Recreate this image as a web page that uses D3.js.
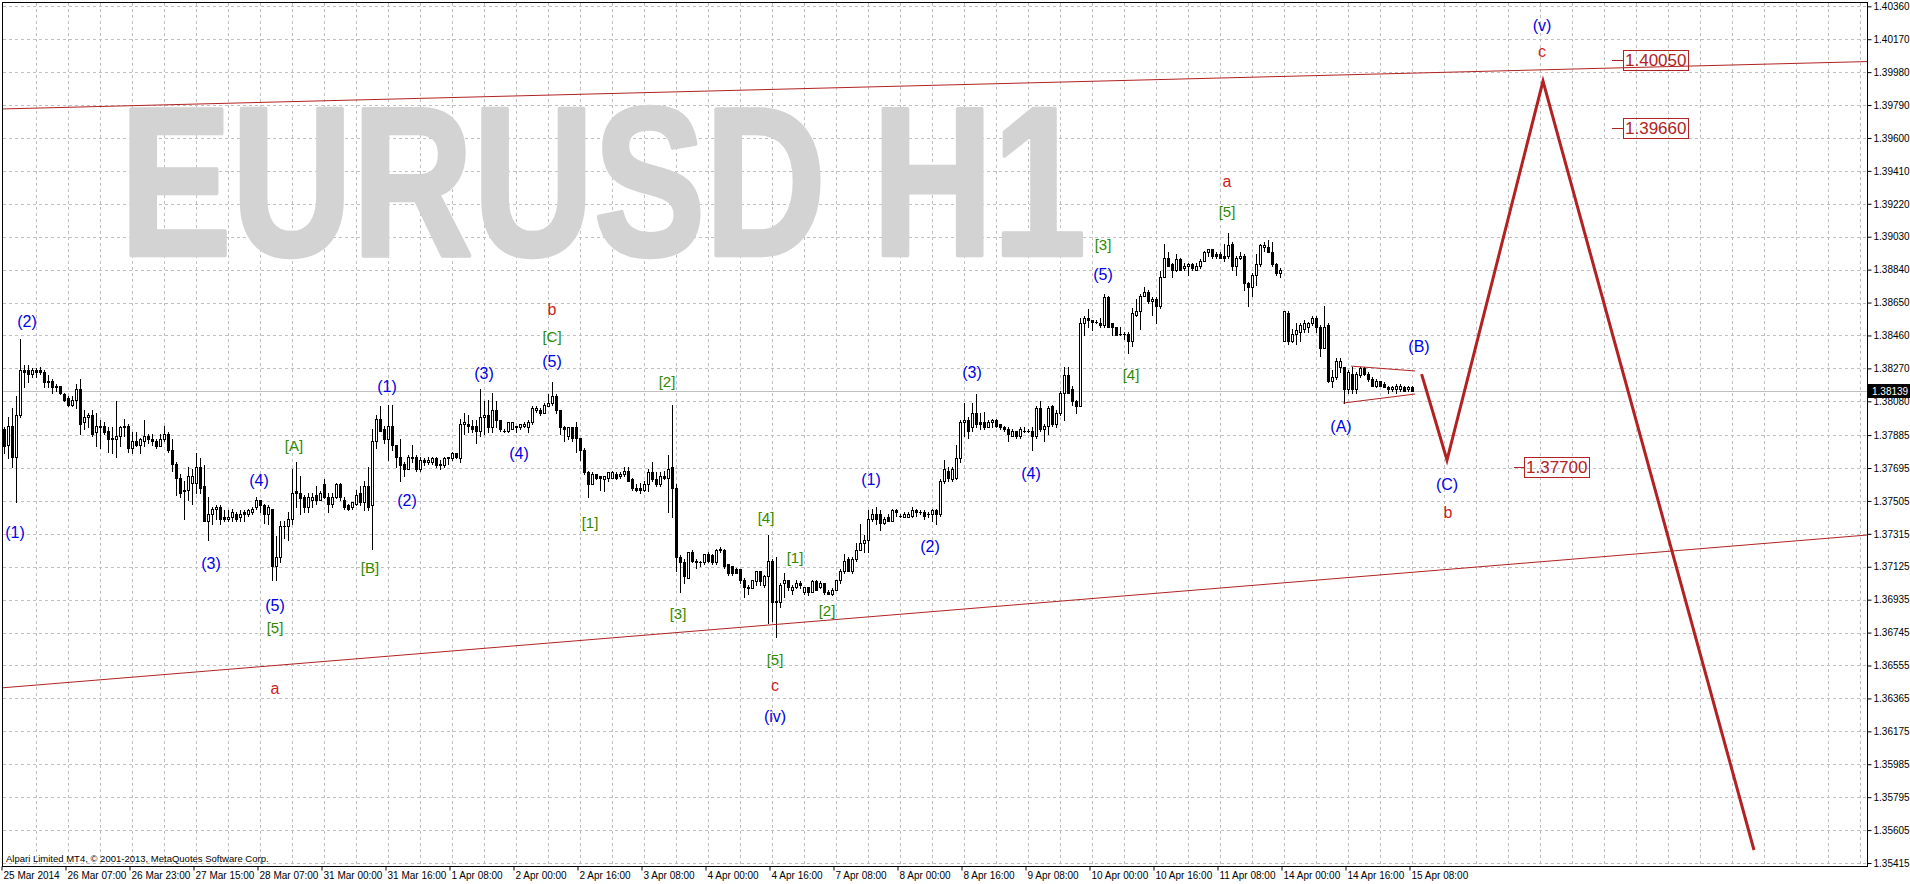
<!DOCTYPE html>
<html><head><meta charset="utf-8">
<script src="https://cdn.jsdelivr.net/npm/d3@7"></script>
<style>body{margin:0;background:#fff;overflow:hidden}svg{display:block}</style>
</head><body><svg id="c" width="1910" height="884"></svg>
<script>
// ---------- data ----------
const priceTicks = [1.40360,1.40170,1.39980,1.39790,1.39600,1.39410,1.39220,1.39030,1.38840,1.38650,1.38460,1.38270,1.38080,1.37885,1.37695,1.37505,1.37315,1.37125,1.36935,1.36745,1.36555,1.36365,1.36175,1.35985,1.35795,1.35605,1.35415];
const timeLabels = ["25 Mar 2014","26 Mar 07:00","26 Mar 23:00","27 Mar 15:00","28 Mar 07:00","31 Mar 00:00","31 Mar 16:00","1 Apr 08:00","2 Apr 00:00","2 Apr 16:00","3 Apr 08:00","4 Apr 00:00","4 Apr 16:00","7 Apr 08:00","8 Apr 00:00","8 Apr 16:00","9 Apr 08:00","10 Apr 00:00","10 Apr 16:00","11 Apr 08:00","14 Apr 00:00","14 Apr 16:00","15 Apr 08:00"];
const timeLabelBars = [0,16,32,48,64,80,96,112,128,144,160,176,192,208,224,240,256,272,288,304,320,336,352];
const lastPrice = 1.38139;
// [open, high, low, close] per H1 bar
const bars = [
[1.3792,1.3793,1.3778,1.3782],[1.3783,1.3799,1.3775,1.3794],[1.3794,1.3804,1.3770,1.3776],[1.3776,1.3811,1.3750,1.3800],
[1.3800,1.3844,1.3799,1.3826],[1.3826,1.3829,1.3816,1.3825],[1.3826,1.3829,1.3819,1.3824],[1.3824,1.3827,1.3822,1.3826],
[1.3826,1.3827,1.3822,1.3825],[1.3826,1.3828,1.3824,1.3825],[1.3825,1.3826,1.3816,1.3819],[1.3820,1.3823,1.3816,1.3819],
[1.3820,1.3821,1.3813,1.3816],[1.3817,1.3818,1.3814,1.3816],[1.3817,1.3817,1.3812,1.3813],[1.3812,1.3813,1.3808,1.3809],
[1.3810,1.3811,1.3805,1.3806],[1.3806,1.3811,1.3805,1.3809],[1.3809,1.3818,1.3804,1.3815],[1.3815,1.3821,1.3789,1.3795],
[1.3796,1.3803,1.3792,1.3799],[1.3799,1.3801,1.3793,1.3800],[1.3800,1.3803,1.3788,1.3789],[1.3790,1.3801,1.3782,1.3794],
[1.3794,1.3797,1.3781,1.3793],[1.3794,1.3796,1.3789,1.3790],[1.3791,1.3793,1.3779,1.3786],[1.3786,1.3793,1.3778,1.3787],
[1.3786,1.3808,1.3776,1.3788],[1.3788,1.3794,1.3782,1.3793],[1.3794,1.3798,1.3788,1.3793],[1.3794,1.3795,1.3779,1.3781],
[1.3781,1.3790,1.3778,1.3785],[1.3785,1.3790,1.3782,1.3783],[1.3783,1.3787,1.3778,1.3786],[1.3785,1.3797,1.3782,1.3788],
[1.3788,1.3789,1.3784,1.3786],[1.3786,1.3789,1.3783,1.3785],[1.3785,1.3786,1.3781,1.3782],[1.3782,1.3789,1.3782,1.3786],
[1.3786,1.3794,1.3785,1.3789],[1.3789,1.3790,1.3779,1.3780],[1.3780,1.3786,1.3768,1.3772],[1.3772,1.3773,1.3754,1.3764],
[1.3764,1.3766,1.3753,1.3755],[1.3756,1.3762,1.3740,1.3757],[1.3757,1.3770,1.3751,1.3765],[1.3761,1.3769,1.3749,1.3765],
[1.3761,1.3778,1.3755,1.3770],[1.3770,1.3775,1.3755,1.3758],[1.3759,1.3771,1.3739,1.3739],[1.3739,1.3753,1.3728,1.3743],
[1.3743,1.3747,1.3737,1.3746],[1.3746,1.3748,1.3740,1.3747],[1.3747,1.3748,1.3737,1.3740],[1.3741,1.3745,1.3739,1.3740],
[1.3740,1.3745,1.3739,1.3741],[1.3741,1.3746,1.3739,1.3744],[1.3743,1.3744,1.3739,1.3740],[1.3741,1.3745,1.3739,1.3743],
[1.3744,1.3745,1.3739,1.3743],[1.3743,1.3746,1.3742,1.3745],[1.3744,1.3747,1.3743,1.3746],[1.3747,1.3753,1.3746,1.3751],
[1.3751,1.3751,1.3744,1.3748],[1.3748,1.3749,1.3738,1.3743],[1.3743,1.3748,1.3737,1.3747],[1.3746,1.3746,1.3705,1.3713],
[1.3713,1.3730,1.3705,1.3718],[1.3718,1.3739,1.3715,1.3736],[1.3736,1.3739,1.3729,1.3736],[1.3736,1.3744,1.3728,1.3740],
[1.3740,1.3769,1.3737,1.3755],[1.3756,1.3773,1.3747,1.3755],[1.3755,1.3765,1.3743,1.3752],[1.3753,1.3754,1.3744,1.3747],
[1.3747,1.3755,1.3744,1.3753],[1.3751,1.3755,1.3747,1.3753],[1.3754,1.3759,1.3749,1.3751],[1.3751,1.3756,1.3751,1.3755],
[1.3760,1.3763,1.3752,1.3753],[1.3753,1.3755,1.3744,1.3749],[1.3749,1.3755,1.3747,1.3753],[1.3753,1.3761,1.3752,1.3760],
[1.3760,1.3761,1.3751,1.3753],[1.3751,1.3753,1.3746,1.3747],[1.3748,1.3749,1.3745,1.3746],[1.3747,1.3750,1.3746,1.3750],
[1.3749,1.3757,1.3748,1.3754],[1.3755,1.3759,1.3748,1.3750],[1.3750,1.3762,1.3745,1.3759],[1.3759,1.3770,1.3745,1.3747],
[1.3748,1.3792,1.3723,1.3785],[1.3785,1.3800,1.3781,1.3798],[1.3798,1.3805,1.3791,1.3791],[1.3792,1.3794,1.3784,1.3786],
[1.3786,1.3806,1.3774,1.3794],[1.3794,1.3806,1.3780,1.3783],[1.3783,1.3783,1.3770,1.3776],[1.3776,1.3786,1.3762,1.3771],
[1.3772,1.3773,1.3765,1.3769],[1.3769,1.3777,1.3769,1.3776],[1.3776,1.3783,1.3773,1.3775],[1.3776,1.3777,1.3768,1.3769],
[1.3769,1.3776,1.3768,1.3774],[1.3774,1.3775,1.3771,1.3773],[1.3773,1.3776,1.3772,1.3774],[1.3773,1.3776,1.3772,1.3775],
[1.3775,1.3776,1.3770,1.3771],[1.3772,1.3774,1.3769,1.3771],[1.3771,1.3776,1.3770,1.3775],[1.3776,1.3776,1.3772,1.3775],
[1.3775,1.3779,1.3774,1.3778],[1.3778,1.3778,1.3775,1.3776],[1.3775,1.3798,1.3773,1.3795],[1.3795,1.3801,1.3789,1.3796],
[1.3795,1.3800,1.3790,1.3794],[1.3794,1.3797,1.3790,1.3792],[1.3794,1.3797,1.3784,1.3791],[1.3791,1.3815,1.3788,1.3799],
[1.3799,1.3808,1.3789,1.3800],[1.3800,1.3809,1.3790,1.3793],[1.3793,1.3813,1.3790,1.3803],[1.3803,1.3808,1.3793,1.3797],
[1.3797,1.3797,1.3791,1.3792],[1.3791,1.3792,1.3790,1.3791],[1.3791,1.3796,1.3790,1.3796],[1.3792,1.3796,1.3792,1.3796],
[1.3794,1.3794,1.3790,1.3793],[1.3793,1.3795,1.3792,1.3795],[1.3794,1.3796,1.3793,1.3795],[1.3793,1.3797,1.3790,1.3796],
[1.3796,1.3805,1.3795,1.3804],[1.3803,1.3805,1.3802,1.3804],[1.3803,1.3804,1.3800,1.3801],[1.3801,1.3807,1.3801,1.3806],
[1.3805,1.3812,1.3805,1.3807],[1.3807,1.3819,1.3806,1.3811],[1.3811,1.3812,1.3801,1.3803],[1.3803,1.3803,1.3789,1.3793],
[1.3793,1.3794,1.3785,1.3792],[1.3788,1.3793,1.3786,1.3793],[1.3793,1.3793,1.3785,1.3787],[1.3793,1.3796,1.3779,1.3787],
[1.3787,1.3787,1.3774,1.3780],[1.3780,1.3781,1.3766,1.3767],[1.3767,1.3768,1.3753,1.3760],[1.3760,1.3767,1.3760,1.3766],
[1.3766,1.3766,1.3763,1.3764],[1.3765,1.3765,1.3757,1.3764],[1.3763,1.3765,1.3756,1.3765],[1.3764,1.3767,1.3762,1.3767],
[1.3764,1.3768,1.3764,1.3767],[1.3766,1.3767,1.3763,1.3764],[1.3765,1.3767,1.3764,1.3766],[1.3766,1.3770,1.3765,1.3768],
[1.3768,1.3770,1.3762,1.3762],[1.3763,1.3764,1.3757,1.3758],[1.3758,1.3760,1.3756,1.3757],[1.3758,1.3761,1.3755,1.3757],
[1.3757,1.3762,1.3756,1.3760],[1.3760,1.3769,1.3756,1.3767],[1.3767,1.3773,1.3762,1.3763],[1.3763,1.3767,1.3759,1.3760],
[1.3760,1.3767,1.3759,1.3765],[1.3765,1.3768,1.3763,1.3764],[1.3764,1.3777,1.3744,1.3769],[1.3770,1.3806,1.3741,1.3758],
[1.3758,1.3760,1.3710,1.3718],[1.3718,1.3719,1.3698,1.3715],[1.3715,1.3717,1.3703,1.3707],[1.3706,1.3721,1.3706,1.3721],
[1.3721,1.3722,1.3715,1.3716],[1.3716,1.3717,1.3712,1.3715],[1.3715,1.3716,1.3713,1.3715],[1.3715,1.3720,1.3714,1.3720],
[1.3720,1.3721,1.3715,1.3716],[1.3719,1.3720,1.3714,1.3715],[1.3715,1.3723,1.3714,1.3722],[1.3722,1.3724,1.3721,1.3723],
[1.3722,1.3723,1.3712,1.3713],[1.3714,1.3714,1.3708,1.3709],[1.3713,1.3713,1.3708,1.3709],[1.3711,1.3712,1.3709,1.3709],
[1.3711,1.3711,1.3703,1.3705],[1.3705,1.3706,1.3695,1.3701],[1.3701,1.3702,1.3697,1.3700],[1.3700,1.3705,1.3700,1.3705],
[1.3704,1.3710,1.3702,1.3710],[1.3710,1.3710,1.3702,1.3704],[1.3702,1.3708,1.3701,1.3707],[1.3707,1.3731,1.3680,1.3716],
[1.3716,1.3717,1.3681,1.3692],[1.3693,1.3718,1.3672,1.3692],[1.3692,1.3703,1.3689,1.3702],[1.3703,1.3709,1.3695,1.3705],
[1.3705,1.3705,1.3699,1.3701],[1.3699,1.3702,1.3697,1.3701],[1.3701,1.3705,1.3700,1.3703],[1.3703,1.3704,1.3700,1.3702],
[1.3698,1.3701,1.3697,1.3701],[1.3701,1.3701,1.3696,1.3698],[1.3698,1.3705,1.3698,1.3704],[1.3704,1.3705,1.3699,1.3699],
[1.3701,1.3704,1.3700,1.3703],[1.3703,1.3703,1.3697,1.3698],[1.3698,1.3699,1.3697,1.3697],[1.3697,1.3700,1.3696,1.3699],
[1.3699,1.3705,1.3699,1.3705],[1.3705,1.3711,1.3703,1.3710],[1.3710,1.3720,1.3709,1.3716],[1.3717,1.3718,1.3710,1.3710],
[1.3710,1.3718,1.3709,1.3717],[1.3717,1.3726,1.3716,1.3722],[1.3722,1.3737,1.3722,1.3726],[1.3726,1.3731,1.3721,1.3728],
[1.3728,1.3745,1.3721,1.3740],[1.3740,1.3746,1.3739,1.3743],[1.3743,1.3747,1.3737,1.3740],[1.3743,1.3745,1.3734,1.3738],
[1.3738,1.3741,1.3737,1.3740],[1.3741,1.3743,1.3739,1.3739],[1.3739,1.3746,1.3739,1.3745],[1.3745,1.3746,1.3742,1.3744],
[1.3742,1.3743,1.3741,1.3742],[1.3741,1.3744,1.3741,1.3743],[1.3741,1.3744,1.3741,1.3743],[1.3742,1.3747,1.3741,1.3745],
[1.3745,1.3746,1.3742,1.3744],[1.3744,1.3745,1.3743,1.3744],[1.3744,1.3745,1.3740,1.3742],[1.3743,1.3744,1.3741,1.3743],
[1.3743,1.3746,1.3739,1.3745],[1.3745,1.3746,1.3737,1.3743],[1.3743,1.3763,1.3742,1.3762],[1.3762,1.3774,1.3761,1.3769],
[1.3768,1.3770,1.3762,1.3764],[1.3763,1.3770,1.3762,1.3769],[1.3764,1.3783,1.3763,1.3775],[1.3775,1.3797,1.3773,1.3796],
[1.3796,1.3807,1.3788,1.3797],[1.3797,1.3799,1.3787,1.3791],[1.3793,1.3807,1.3791,1.3801],[1.3801,1.3812,1.3793,1.3795],
[1.3796,1.3801,1.3792,1.3795],[1.3796,1.3802,1.3792,1.3793],[1.3793,1.3797,1.3793,1.3796],[1.3796,1.3798,1.3793,1.3797],
[1.3797,1.3798,1.3793,1.3794],[1.3795,1.3795,1.3792,1.3793],[1.3793,1.3794,1.3791,1.3792],[1.3792,1.3793,1.3785,1.3789],
[1.3788,1.3792,1.3788,1.3791],[1.3791,1.3791,1.3787,1.3788],[1.3788,1.3793,1.3787,1.3792],[1.3791,1.3793,1.3790,1.3791],
[1.3791,1.3792,1.3790,1.3791],[1.3791,1.3793,1.3780,1.3788],[1.3788,1.3805,1.3787,1.3804],[1.3804,1.3808,1.3791,1.3792],
[1.3792,1.3795,1.3785,1.3794],[1.3794,1.3805,1.3789,1.3804],[1.3805,1.3806,1.3794,1.3795],[1.3795,1.3803,1.3793,1.3801],
[1.3801,1.3814,1.3800,1.3813],[1.3813,1.3828,1.3797,1.3823],[1.3823,1.3828,1.3813,1.3813],[1.3815,1.3817,1.3806,1.3808],
[1.3808,1.3809,1.3801,1.3805],[1.3805,1.3856,1.3805,1.3853],[1.3853,1.3857,1.3846,1.3856],[1.3856,1.3861,1.3851,1.3855],
[1.3855,1.3855,1.3849,1.3854],[1.3854,1.3855,1.3853,1.3854],[1.3853,1.3856,1.3851,1.3852],[1.3852,1.3870,1.3851,1.3868],
[1.3868,1.3869,1.3851,1.3851],[1.3853,1.3853,1.3846,1.3851],[1.3851,1.3851,1.3846,1.3846],[1.3847,1.3851,1.3846,1.3847],
[1.3847,1.3848,1.3844,1.3847],[1.3847,1.3848,1.3836,1.3843],[1.3843,1.3862,1.3840,1.3859],[1.3858,1.3867,1.3857,1.3860],
[1.3860,1.3870,1.3850,1.3869],[1.3869,1.3874,1.3869,1.3871],[1.3871,1.3872,1.3865,1.3866],[1.3866,1.3868,1.3858,1.3867],
[1.3867,1.3868,1.3853,1.3863],[1.3863,1.3883,1.3862,1.3880],[1.3880,1.3899,1.3880,1.3891],[1.3891,1.3894,1.3886,1.3886],
[1.3887,1.3888,1.3880,1.3884],[1.3884,1.3893,1.3883,1.3890],[1.3890,1.3891,1.3884,1.3884],[1.3885,1.3888,1.3884,1.3886],
[1.3886,1.3888,1.3881,1.3887],[1.3887,1.3888,1.3884,1.3885],[1.3884,1.3888,1.3884,1.3886],[1.3886,1.3890,1.3885,1.3889],
[1.3889,1.3895,1.3889,1.3894],[1.3894,1.3896,1.3892,1.3896],[1.3896,1.3896,1.3891,1.3892],[1.3893,1.3894,1.3891,1.3892],
[1.3893,1.3894,1.3891,1.3891],[1.3892,1.3899,1.3889,1.3891],[1.3892,1.3905,1.3891,1.3898],[1.3899,1.3900,1.3884,1.3886],
[1.3886,1.3892,1.3881,1.3891],[1.3891,1.3894,1.3890,1.3892],[1.3892,1.3893,1.3872,1.3876],[1.3876,1.3877,1.3863,1.3874],
[1.3874,1.3882,1.3869,1.3881],[1.3881,1.3893,1.3875,1.3887],[1.3887,1.3899,1.3886,1.3898],[1.3897,1.3900,1.3895,1.3898],
[1.3897,1.3901,1.3894,1.3894],[1.3894,1.3900,1.3886,1.3887],[1.3887,1.3888,1.3881,1.3882],[1.3882,1.3885,1.3880,1.3884],
[1.3843,1.3860,1.3843,1.3860],[1.3859,1.3860,1.3841,1.3843],[1.3843,1.3850,1.3842,1.3847],[1.3847,1.3853,1.3841,1.3849],
[1.3848,1.3853,1.3843,1.3852],[1.3850,1.3855,1.3848,1.3853],[1.3851,1.3854,1.3848,1.3853],[1.3853,1.3857,1.3852,1.3856],
[1.3856,1.3857,1.3848,1.3851],[1.3851,1.3852,1.3834,1.3839],[1.3839,1.3863,1.3839,1.3851],[1.3852,1.3853,1.3819,1.3820],
[1.3820,1.3826,1.3816,1.3822],[1.3822,1.3833,1.3821,1.3831],[1.3828,1.3833,1.3825,1.3831],[1.3828,1.3828,1.3807,1.3815],
[1.3815,1.3826,1.3813,1.3825],[1.3824,1.3828,1.3813,1.3815],[1.3815,1.3825,1.3813,1.3824],[1.3823,1.3828,1.3822,1.3827],
[1.3827,1.3828,1.3823,1.3824],[1.3824,1.3825,1.3820,1.3821],[1.3821,1.3822,1.3817,1.3817],[1.3817,1.3821,1.3816,1.3820],
[1.3820,1.3820,1.3817,1.3817],[1.3818,1.3819,1.3816,1.3816],[1.3816,1.3817,1.3813,1.3815],[1.3815,1.3817,1.3814,1.3816],
[1.3815,1.3818,1.3813,1.3817],[1.3815,1.3818,1.3814,1.3817],[1.3816,1.3817,1.3814,1.3814],[1.3815,1.3817,1.3814,1.3816],
[1.3816,1.3817,1.3814,1.38139]
];
// trend objects: [bar index, price]
const channelUpper = [[-1,1.39767],[465.75,1.40041]];
const channelLower = [[-1,1.36425],[465.75,1.37308]];
const wedgeUpper = [[336.8,1.38283],[352.8,1.38255]];
const wedgeLower = [[334.8,1.38070],[352.8,1.38122]];
const forecast = [[354.4,1.38237],[360.75,1.37741],[384.75,1.39928],[437.5,1.35490]];
// text labels: [text, bar index, price]
const blueLabels = [["(1)",2.75,1.37325],["(2)",5.75,1.38543],["(3)",51.75,1.37146],["(4)",63.75,1.37620],["(5)",67.75,1.36900],
["(1)",95.75,1.38168],["(2)",100.75,1.37510],["(3)",120,1.38243],["(4)",128.75,1.37776],["(5)",137,1.38312],
["(1)",216.75,1.37631],["(2)",231.5,1.37239],["(3)",242,1.38249],["(4)",256.75,1.37666],["(5)",274.75,1.38812],
["(A)",334.25,1.37937],["(B)",353.75,1.38399],["(C)",360.75,1.37597],["(iv)",192.75,1.36262],["(v)",384.5,1.40248]];
const redLabels = [["a",67.75,1.36425],["b",137,1.38607],["c",192.75,1.36440],["a",305.75,1.39350],["b",361,1.37436],["c",384.5,1.40098]];
const greenLabels = [["[A]",72.5,1.37822],["[B]",91.5,1.37123],["[5]",67.75,1.36777],["[C]",137,1.38455],["[1]",146.5,1.37383],
["[2]",165.75,1.38197],["[3]",168.5,1.36858],["[4]",190.5,1.37412],["[1]",197.75,1.37181],["[2]",205.75,1.36875],
["[5]",192.75,1.36592],["[3]",274.75,1.38985],["[4]",281.75,1.38237],["[5]",305.75,1.39178]];
// price boxes: [text, tick start bar, box left bar, price]
const priceBoxes = [["1.40050",402,404.75,1.40050],["1.39660",402,404.75,1.39660],["1.37700",377.5,380,1.37700]];
const watermark = "EURUSD H1";
const copyright = "Alpari Limited MT4, \u00A9 2001-2013, MetaQuotes Software Corp.";

// ---------- drawing ----------
const FONT = "'Liberation Sans', Arial, sans-serif";
const svg = d3.select('#c');
const x = d3.scaleLinear().domain([0, 352]).range([4, 1412]);
const y = d3.scaleLinear().domain([1.35415, 1.40360]).range([863, 6.3]);
const RED = '#b22222';

svg.append('rect').attr('width',1910).attr('height',884).attr('fill','#fff');
svg.append('defs').append('clipPath').attr('id','plot')
  .append('rect').attr('x',3).attr('y',3).attr('width',1864).attr('height',863);

// grid
const grid = svg.append('g').attr('stroke','#c0c0c0').attr('stroke-width',1).attr('stroke-dasharray','3,3');
grid.selectAll('line.h').data(priceTicks).join('line').attr('class','h')
  .attr('x1',3).attr('x2',1867)
  .attr('y1',d=>Math.round(y(d))+0.5).attr('y2',d=>Math.round(y(d))+0.5);
grid.selectAll('line.v').data(d3.range(8,465,8)).join('line').attr('class','v')
  .attr('y1',3).attr('y2',866)
  .attr('x1',d=>x(d)+0.5).attr('x2',d=>x(d)+0.5);

// watermark (scaled horizontally so its box matches the drawn glyphs)
const wm = svg.append('text').attr('x',0).attr('y',0).text(watermark)
  .attr('font-family',FONT).attr('font-weight','bold').attr('font-size',212)
  .attr('fill','#d3d3d3').attr('stroke','#d3d3d3').attr('stroke-width',4.5).attr('stroke-linejoin','round');
const wmW = wm.node().getComputedTextLength();
wm.attr('transform',`translate(120,255) scale(${966/wmW},1)`);

const plot = svg.append('g').attr('clip-path','url(#plot)');

// last price line
plot.append('line').attr('x1',3).attr('x2',1867)
  .attr('y1',Math.round(y(lastPrice))+0.5).attr('y2',Math.round(y(lastPrice))+0.5)
  .attr('stroke','#c0c0c0').attr('stroke-width',1);

// candles
const data = bars.map((b,i)=>({i,o:b[0],h:b[1],l:b[2],c:b[3]}));
const cg = plot.append('g');
const candle = cg.selectAll('g.cd').data(data).join('g').attr('class','cd');
candle.append('line')
  .attr('x1',d=>x(d.i)+0.5).attr('x2',d=>x(d.i)+0.5)
  .attr('y1',d=>Math.round(y(d.h))).attr('y2',d=>Math.round(y(d.l))+1)
  .attr('stroke','#000').attr('stroke-width',1);
candle.each(function(d){
  const g = d3.select(this);
  const yt = Math.round(y(Math.max(d.o,d.c))), yb = Math.round(y(Math.min(d.o,d.c)));
  if (d.c > d.o && yb - yt >= 2) {
    g.append('rect').attr('x',x(d.i)-0.5).attr('y',yt+0.5).attr('width',2).attr('height',yb-yt)
      .attr('fill','#fff').attr('stroke','#000').attr('stroke-width',1);
  } else {
    g.append('rect').attr('x',x(d.i)-1).attr('y',yt).attr('width',3).attr('height',Math.max(1,yb-yt+1))
      .attr('fill','#000');
  }
});

// trend lines
const line = d3.line().x(d=>x(d[0])).y(d=>y(d[1]));
[channelUpper, channelLower, wedgeUpper, wedgeLower].forEach(pts=>{
  plot.append('path').attr('d',line(pts)).attr('fill','none').attr('stroke',RED).attr('stroke-width',1);
});
plot.append('path').attr('d',line(forecast)).attr('fill','none').attr('stroke',RED)
  .attr('stroke-width',3).attr('stroke-linejoin','miter');

// labels
function labels(arr, color, size){
  svg.append('g').selectAll('text').data(arr).join('text')
    .attr('x',d=>x(d[1])).attr('y',d=>y(d[2]))
    .attr('text-anchor','middle').attr('dominant-baseline','central')
    .attr('font-family',FONT).attr('font-size',size).attr('fill',color).text(d=>d[0]);
}
labels(blueLabels,'#0000e6',16);
labels(greenLabels,'#2f8a00',15);
labels(redLabels,'#cc1e1e',16);

// price boxes
priceBoxes.forEach(b=>{
  const g = svg.append('g');
  const yc = Math.round(y(b[3]));
  g.append('line').attr('x1',x(b[1])).attr('x2',x(b[2])).attr('y1',yc+0.5).attr('y2',yc+0.5)
    .attr('stroke',RED).attr('stroke-width',1);
  const t = g.append('text').attr('x',x(b[2])+2).attr('y',yc).attr('dominant-baseline','central')
    .attr('font-family',FONT).attr('font-size',17).attr('fill',RED).text(b[0]);
  const w = t.node().getComputedTextLength();
  g.insert('rect','text').attr('x',x(b[2])+0.5).attr('y',yc-9.5).attr('width',Math.round(w)+4).attr('height',20)
    .attr('fill','#fff').attr('fill-opacity',0).attr('stroke',RED).attr('stroke-width',1);
});

// axes
const yAxis = d3.axisRight(y).tickValues(priceTicks).tickFormat(d=>d.toFixed(5)).tickSize(4).tickSizeOuter(0).tickPadding(2);
const ya = svg.append('g').attr('transform','translate(1867.5,0)').call(yAxis);
ya.select('.domain').remove();
ya.selectAll('text').attr('font-family',FONT).attr('font-size',10).attr('fill','#000');

const xAxis = d3.axisBottom(x).tickValues(timeLabelBars).tickFormat((d,i)=>timeLabels[i]).tickSize(4).tickSizeOuter(0).tickPadding(1);
const xa = svg.append('g').attr('transform','translate(0.5,866.5)').call(xAxis);
xa.select('.domain').remove();
xa.selectAll('.tick line').attr('transform','translate(-3,0)');
xa.selectAll('text').attr('text-anchor','start').attr('dx',-1.5).attr('font-family',FONT).attr('font-size',10).attr('fill','#000');

// frame
svg.append('rect').attr('x',2.5).attr('y',2.5).attr('width',1865).attr('height',864)
  .attr('fill','none').attr('stroke','#000').attr('stroke-width',1);

// last price tag
const yl = Math.round(y(lastPrice));
svg.append('rect').attr('x',1868).attr('y',yl-7).attr('width',42).attr('height',14).attr('fill','#000');
svg.append('text').attr('x',1872).attr('y',yl).attr('dominant-baseline','central')
  .attr('font-family',FONT).attr('font-size',10).attr('fill','#fff').text(lastPrice.toFixed(5));

// copyright
svg.append('text').attr('x',6).attr('y',858).attr('dominant-baseline','central')
  .attr('font-family',FONT).attr('font-size',9.5).attr('fill','#000').text(copyright);
</script></body></html>
